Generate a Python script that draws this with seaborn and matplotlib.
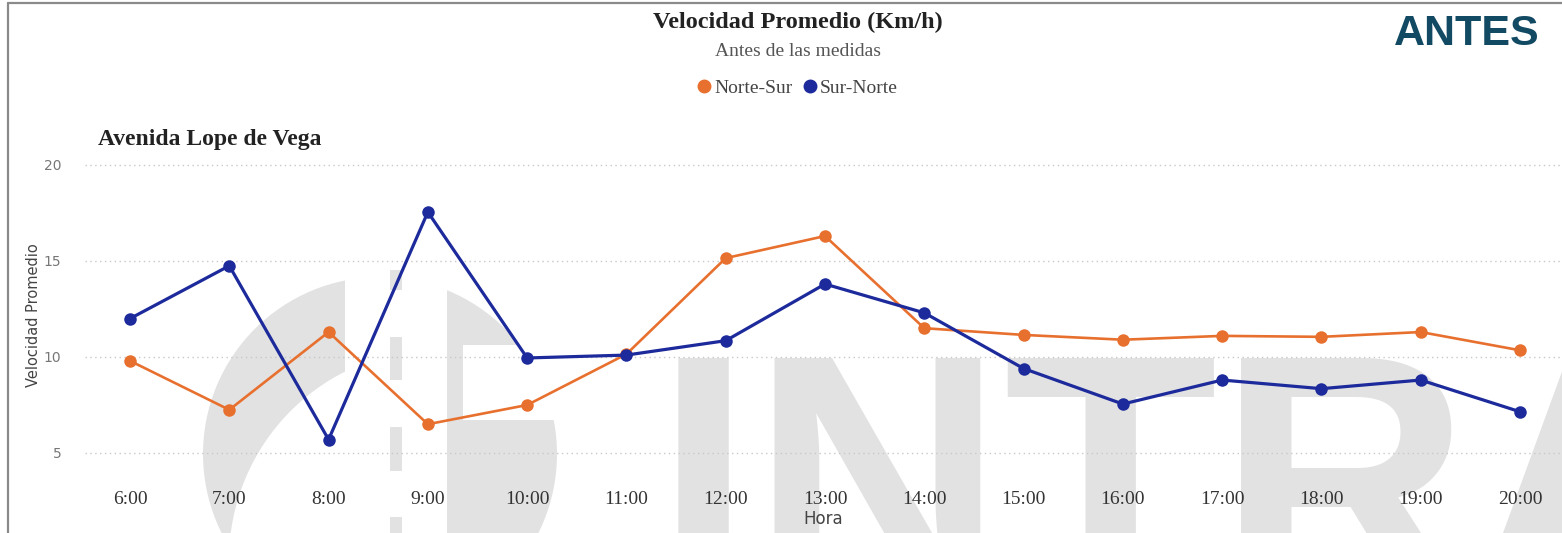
import pandas as pd
import matplotlib.pyplot as plt
import seaborn as sns
from matplotlib.lines import Line2D
from matplotlib.patches import Circle, Rectangle

# datos
horas = ['6:00', '7:00', '8:00', '9:00', '10:00', '11:00', '12:00', '13:00',
         '14:00', '15:00', '16:00', '17:00', '18:00', '19:00', '20:00']
norte_sur = [9.8, 7.25, 11.3, 6.5, 7.5, 10.15, 15.15, 16.3, 11.5, 11.15, 10.9, 11.1, 11.05, 11.3, 10.35]
sur_norte = [12.0, 14.75, 5.7, 17.55, 9.95, 10.1, 10.85, 13.8, 12.3, 9.4, 7.55, 8.8, 8.35, 8.8, 7.15]
sentidos = ['Norte-Sur', 'Sur-Norte']
colores = {'Norte-Sur': '#E8702F', 'Sur-Norte': '#1C2A9B'}
yticks = [5, 10, 15, 20]

df = pd.DataFrame({
    'Hora': horas * 2,
    'Velocidad Promedio': norte_sur + sur_norte,
    'Sentido': ['Norte-Sur'] * len(horas) + ['Sur-Norte'] * len(horas),
})

sns.set_theme(style="white")
plt.rcParams['font.family'] = ['DejaVu Sans']

W, H = 1562, 533
fig = plt.figure(figsize=(W / 100, H / 100), dpi=100)

# marca de agua de fondo (coordenadas en pixeles)
bg = fig.add_axes([0, 0, 1, 1], zorder=0)
bg.set_xlim(0, W)
bg.set_ylim(H, 0)
bg.axis('off')
gris = '#E2E2E2'
c1 = Circle((380, 454), 177, color=gris, lw=0)
bg.add_patch(c1)
c1.set_clip_path(Rectangle((0, 0), 345, H, transform=bg.transData))
c2 = Circle((440, 560), 211, color='white', lw=0)
bg.add_patch(c2)
c2.set_clip_path(Rectangle((0, 0), 345, H, transform=bg.transData))
c3 = Circle((380, 454), 177, color=gris, lw=0)
bg.add_patch(c3)
c3.set_clip_path(Rectangle((447, 0), 200, H, transform=bg.transData))
bg.add_patch(Rectangle((463, 345), 120, 75, color='white', lw=0))
for y0, y1 in [(270, 290), (337, 380), (427, 471), (517, 540)]:
    bg.add_patch(Rectangle((390, y0), 12, y1 - y0, color=gris, lw=0))
bg.text(655, 598, 'INTRA', fontsize=252, fontweight='bold', color=gris,
        family='Liberation Sans', va='baseline', ha='left')

# borde
fig.add_artist(Line2D([8 / W, 8 / W], [0, 1 - 3 / H], color='#8A8A8A', lw=1.6))
fig.add_artist(Line2D([8 / W, 1], [1 - 3 / H, 1 - 3 / H], color='#8A8A8A', lw=1.6))

ax = fig.add_axes([85 / W, 1 - 480 / H, 1 - 85 / W, (480 - 150) / H], zorder=1)
ax.set_facecolor('none')
sns.pointplot(data=df, x='Hora', y='Velocidad Promedio', hue='Sentido',
              order=horas, hue_order=sentidos, palette=colores,
              markers='o', errorbar=None, legend=False, ax=ax)
for line, lw in zip(ax.lines, [1.9, 2.3]):
    line.set_linewidth(lw)
    line.set_markersize(9)
    line.set_markeredgewidth(0)

x0 = 130
paso = (1520 - 130) / 14
ax.set_xlim((85 - x0) / paso, (W - x0) / paso)
ax.set_ylim(5 - (480 - 453) / 19.2, 20 + (165 - 150) / 19.2)
ax.set_yticks(yticks)
ax.yaxis.grid(True, linestyle=(0, (1, 2.5)), color='#C8C8C8', lw=1)
ax.xaxis.grid(False)
for s in ax.spines.values():
    s.set_visible(False)
ax.tick_params(axis='y', length=0, pad=17, labelsize=10, labelcolor='#777777')
ax.tick_params(axis='x', length=0, pad=8, labelsize=14, labelcolor='#333333')
for t in ax.get_xticklabels():
    t.set_family('Liberation Serif')
ax.set_xlabel('Hora', fontsize=12, color='#444444', labelpad=1)
ax.set_ylabel('Velocidad Promedio', fontsize=10.5, color='#444444', labelpad=2)

# textos
fig.text(798 / W, 1 - 22 / H, 'Velocidad Promedio (Km/h)', ha='center', va='center',
         fontsize=17.5, fontweight='bold', family='Liberation Serif', color='#222222')
fig.text(798 / W, 1 - 51 / H, 'Antes de las medidas', ha='center', va='center',
         fontsize=14, family='Liberation Serif', color='#555555')
fig.text(98 / W, 1 - 139 / H, 'Avenida Lope de Vega', ha='left', va='center',
         fontsize=17, fontweight='bold', family='Liberation Serif', color='#222222')
fig.text(1540 / W, 1 - 34 / H, 'ANTES', ha='right', va='center',
         fontsize=31, fontweight='bold', family='Liberation Sans', color='#124A63')

handles = [Line2D([], [], marker='o', linestyle='', color=colores[s], markersize=9)
           for s in sentidos]
leg = fig.legend(handles, sentidos, loc='center', bbox_to_anchor=(798 / W, 1 - 88 / H),
                 ncol=2, frameon=False, handlelength=0.6, handletextpad=0.2,
                 columnspacing=0.6, prop={'family': 'Liberation Serif', 'size': 14})
for t in leg.get_texts():
    t.set_color('#444444')

fig.savefig('out.png', dpi=100)
